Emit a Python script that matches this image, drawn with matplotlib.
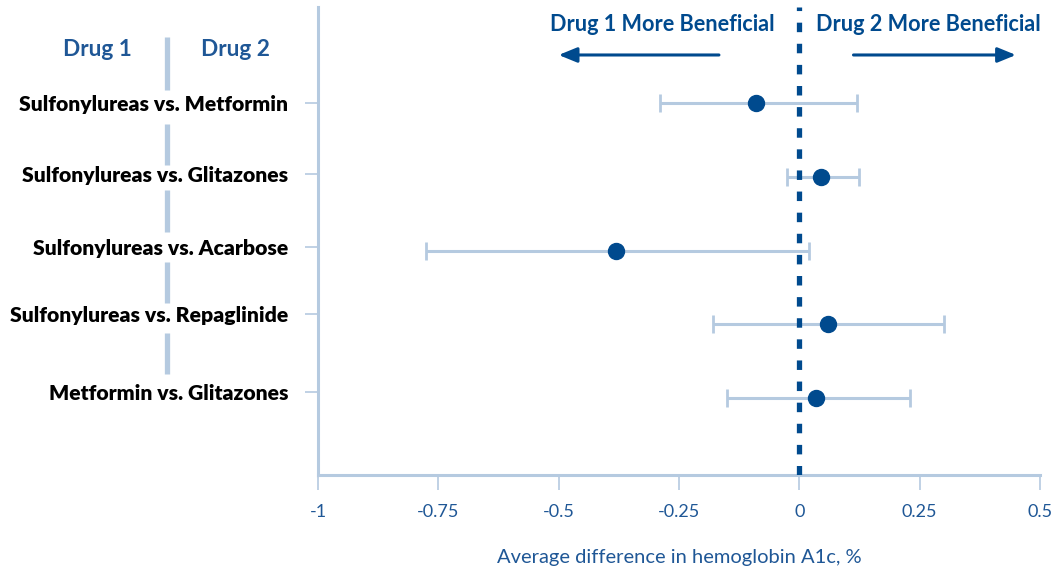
"""
Forest plot: difference in hemoglobin A1c between diabetes drug pairs.
"""

import matplotlib
matplotlib.use("Agg")
import matplotlib.pyplot as plt
from matplotlib.lines import Line2D

# data
comparisons = [
    "Sulfonylureas vs. Metformin",
    "Sulfonylureas vs. Glitazones",
    "Sulfonylureas vs. Acarbose",
    "Sulfonylureas vs. Repaglinide",
    "Metformin vs. Glitazones",
]
mean_diff = [-0.09, 0.045, -0.38, 0.06, 0.035]
ci_low = [-0.29, -0.025, -0.775, -0.18, -0.15]
ci_high = [0.12, 0.125, 0.02, 0.30, 0.23]

x_ticks = [-1, -0.75, -0.5, -0.25, 0, 0.25, 0.5]
x_tick_labels = ["-1", "-0.75", "-0.5", "-0.25", "0", "0.25", "0.5"]

DARK = "#004a8e"
LIGHT = "#b5cae0"
TEXT_BLUE = "#1f5796"

plt.rcParams["font.family"] = ["Lato", "DejaVu Sans"]

fig = plt.figure(figsize=(10.52, 5.71), dpi=100)
ax = fig.add_axes([318 / 1052, 96 / 571, 722 / 1052, 468 / 571])

rows = list(range(len(comparisons)))
# labels/ticks sit a touch above the points on the lower rows
label_shift = [0, -0.04, -0.05, -0.14, -0.08]
label_pos = [r + s for r, s in zip(rows, label_shift)]

xerr = [
    [m - lo for m, lo in zip(mean_diff, ci_low)],
    [hi - m for m, hi in zip(mean_diff, ci_high)],
]
ax.errorbar(
    mean_diff, rows, xerr=xerr,
    fmt="none", ecolor=LIGHT, elinewidth=2.2, capsize=6.5, capthick=2.0, zorder=2,
)
ax.axvline(0, color=DARK, linewidth=3.8, linestyle=(0, (1.8, 2.2)),
           dash_capstyle="butt", zorder=3)
ax.plot(mean_diff, rows, "o", color=DARK, markersize=11.5, zorder=4)

ax.set_xlim(-1, 0.5)
ax.set_ylim(5.04, -1.30)

ax.set_xticks(x_ticks, x_tick_labels)
ax.set_yticks(label_pos, comparisons)

for side in ["top", "right"]:
    ax.spines[side].set_visible(False)
for side in ["left", "bottom"]:
    ax.spines[side].set_color(LIGHT)
    ax.spines[side].set_linewidth(2.2)

ax.tick_params(axis="x", colors=LIGHT, length=11, width=1.2, pad=10,
               labelcolor=TEXT_BLUE, labelsize=13)
ax.tick_params(axis="y", colors=LIGHT, length=9.5, width=1.2, pad=12,
               labelcolor="black", labelsize=15.2)
for lab in ax.get_yticklabels():
    lab.set_fontweight("heavy")

ax.set_xlabel("Average difference in hemoglobin A1c, %", color=TEXT_BLUE,
              fontsize=14.5, labelpad=21)

# direction labels and arrows above the plot
ax.text(-0.285, -1.06, "Drug 1 More Beneficial", color=DARK, fontsize=15.6,
        fontweight="bold", ha="center", va="center")
ax.text(0.268, -1.06, "Drug 2 More Beneficial", color=DARK, fontsize=15.6,
        fontweight="bold", ha="center", va="center")
arrow_style = dict(arrowstyle="-|>,head_length=1.1,head_width=0.45",
                   color=DARK, linewidth=2.2, shrinkA=0, shrinkB=0)
ax.annotate("", xy=(-0.50, -0.65), xytext=(-0.167, -0.65), arrowprops=arrow_style)
ax.annotate("", xy=(0.45, -0.65), xytext=(0.1125, -0.65), arrowprops=arrow_style)

# "Drug 1 | Drug 2" header on the left
fig.text(97 / 1052, 1 - 49 / 571, "Drug 1", color=TEXT_BLUE, fontsize=16.3,
         fontweight="bold", ha="center", va="center")
fig.text(235 / 1052, 1 - 49 / 571, "Drug 2", color=TEXT_BLUE, fontsize=16.3,
         fontweight="bold", ha="center", va="center")
for top, bottom in [(37, 90), (124, 165), (190, 232), (262, 303), (333, 374)]:
    fig.add_artist(Line2D([167 / 1052, 167 / 1052], [1 - top / 571, 1 - bottom / 571],
                          transform=fig.transFigure, color=LIGHT, linewidth=3.8,
                          solid_capstyle="butt"))

fig.savefig("out.png", dpi=100)
